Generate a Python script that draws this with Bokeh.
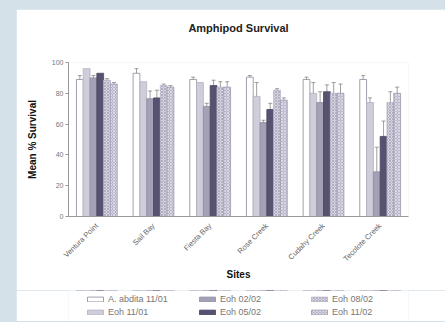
import numpy as np
from bokeh.plotting import figure
from bokeh.layouts import column
from bokeh.models import (ColumnDataSource, Legend, LegendItem, Whisker, TeeHead,
                          FactorRange, Title, Range1d)
from bokeh.transform import dodge
from bokeh.embed import file_html
from bokeh.resources import INLINE

sites = ["Ventura Point", "Sail Bay", "Fiesta Bay", "Rose Creek", "Cudahy Creek", "Tecolote Creek"]
series_names = ["A. abdita 11/01", "Eoh 11/01", "Eoh 02/02", "Eoh 05/02", "Eoh 08/02", "Eoh 11/02"]

a_abdita_1101 = [89, 93, 89, 90.5, 89, 89]
a_abdita_1101_err = [2.5, 3, 1.5, 1, 1.5, 2.5]
eoh_1101 = [96, 87.5, 87, 78, 80, 74]
eoh_1101_err = [0, 0, 0, 9, 7, 3]
eoh_0202 = [90, 76.5, 71.5, 61, 74, 29]
eoh_0202_err = [1.5, 5, 2, 1.5, 7, 16]
eoh_0502 = [93, 77, 85, 69.5, 81, 52]
eoh_0502_err = [0, 5, 3.5, 4, 4.5, 10]
eoh_0802 = [88.5, 85, 84, 82, 80, 74]
eoh_0802_err = [1, 1, 3.5, 1, 7, 7]
eoh_1102 = [86, 84, 84, 75.5, 80, 80]
eoh_1102_err = [1, 1, 3.5, 1.5, 6, 4]

y_ticks = [0, 20, 40, 60, 80, 100]

values = [a_abdita_1101, eoh_1101, eoh_0202, eoh_0502, eoh_0802, eoh_1102]
errors = [a_abdita_1101_err, eoh_1101_err, eoh_0202_err, eoh_0502_err, eoh_0802_err, eoh_1102_err]

fills = ["#ffffff", "#cfcdd9", "#a3a1b6", "#56526f", "#d9d7e3", "#b7b5c9"]
hatches = [None, None, None, None, "x", "x"]
hatch_colors = [None, None, None, None, "#9f9db2", "#e8e7ef"]
lines = ["#8a889c", "#b3b1c2", "#8f8da3", "#4a4662", "#b5b3c5", "#9c9ab0"]

FONT = "Liberation Sans"

p = figure(x_range=FactorRange(*sites), y_range=(0, 100), title=None,
           width=429, height=281, output_backend="svg", toolbar_location=None,
           min_border_left=52, min_border_right=37, min_border_top=53, min_border_bottom=74,
           background_fill_color="white", border_fill_color="white")

# spacer between title and frame, then the title itself
p.add_layout(Title(text=" ", text_font_size="24px", standoff=0), "above")
p.add_layout(Title(text="Amphipod Survival", align="center", text_font=FONT,
                   text_font_size="11px", text_font_style="bold", text_color="#222222",
                   standoff=0), "above")

p.outline_line_color = None
p.xgrid.grid_line_color = None
p.ygrid.grid_line_color = None

# legend-only figure below the chart (its bars lie outside its visible y range)
lg = figure(x_range=FactorRange(*sites), y_range=Range1d(-2, -1),
            width=429, height=31, output_backend="svg", toolbar_location=None,
            min_border_left=52, min_border_right=37, min_border_top=0, min_border_bottom=0,
            background_fill_color="white", border_fill_color="white")
lg.outline_line_color = None
lg.axis.visible = False
lg.grid.visible = False

bw = 0.12
offsets = [-0.30, -0.18, -0.06, 0.06, 0.18, 0.30]
items = []
for i, (vals, errs) in enumerate(zip(values, errors)):
    src = ColumnDataSource(dict(site=sites, top=vals))
    kw = dict(fill_color=fills[i], line_color=lines[i], line_width=0.8)
    if hatches[i]:
        kw.update(hatch_pattern=hatches[i], hatch_color=hatch_colors[i], hatch_scale=3, hatch_weight=0.7)
    p.vbar(x=dodge("site", offsets[i], range=p.x_range), top="top", width=bw, source=src, **kw)
    r2 = lg.vbar(x=dodge("site", offsets[i], range=lg.x_range), top="top", width=bw, source=src, **kw)
    items.append(LegendItem(label=series_names[i], renderers=[r2]))
    es = [s for s, e in zip(sites, errs) if e > 0]
    ev = [v for v, e in zip(vals, errs) if e > 0]
    ee = [e for e in errs if e > 0]
    if es:
        esrc = ColumnDataSource(dict(site=es, lo=[v - e for v, e in zip(ev, ee)], hi=[v + e for v, e in zip(ev, ee)]))
        w = Whisker(base=dodge("site", offsets[i], range=p.x_range), lower="lo", upper="hi", source=esrc,
                    line_color="#777777", line_width=0.7,
                    upper_head=TeeHead(size=4, line_color="#777777", line_width=0.7),
                    lower_head=TeeHead(size=4, line_color="#777777", line_width=0.7))
        p.add_layout(w)

# axes
p.yaxis.ticker = y_ticks
p.yaxis.minor_tick_line_color = None
p.yaxis.major_tick_out = 3
p.yaxis.major_tick_in = 0
p.yaxis.major_label_standoff = 2
p.yaxis.axis_line_color = "#999999"
p.yaxis.major_tick_line_color = "#999999"
p.yaxis.major_label_text_font = FONT
p.yaxis.major_label_text_font_size = "7px"
p.yaxis.major_label_text_color = "#777777"
p.yaxis.axis_label = "Mean % Survival"
p.yaxis.axis_label_text_font = FONT
p.yaxis.axis_label_text_font_size = "10px"
p.yaxis.axis_label_text_font_style = "bold"
p.yaxis.axis_label_text_color = "#111111"
p.yaxis.axis_label_standoff = 11

p.xaxis.major_label_orientation = np.pi / 4
p.xaxis.major_tick_line_color = None
p.xaxis.axis_line_color = "#999999"
p.xaxis.major_label_text_font = FONT
p.xaxis.major_label_text_font_size = "7.5px"
p.xaxis.major_label_text_color = "#666666"
p.xaxis.major_label_standoff = 2
p.xaxis.axis_label = "Sites"
p.xaxis.axis_label_text_font = FONT
p.xaxis.axis_label_text_font_size = "10px"
p.xaxis.axis_label_text_font_style = "bold"
p.xaxis.axis_label_text_color = "#111111"
p.xaxis.axis_label_standoff = 0

legend = Legend(items=items, location=(17, 4), orientation="vertical", nrows=2,
                glyph_width=20, glyph_height=6, label_height=9, label_width=86, label_standoff=3,
                spacing=3, padding=0, margin=0, border_line_color=None,
                background_fill_alpha=0, label_text_font=FONT, label_text_font_size="9px",
                label_text_color="#777777")
lg.add_layout(legend, "center")

layout = column(p, lg, spacing=0)
layout.styles = {"margin-left": "16px", "margin-top": "9px"}

html = file_html(layout, INLINE)
style = "<style>html, body { margin: 0 !important; padding: 0; background: #d5e1e8 !important; overflow: hidden; }</style>"
html = html.replace("</head>", style + "</head>", 1)
open("out.html", "w").write(html)
